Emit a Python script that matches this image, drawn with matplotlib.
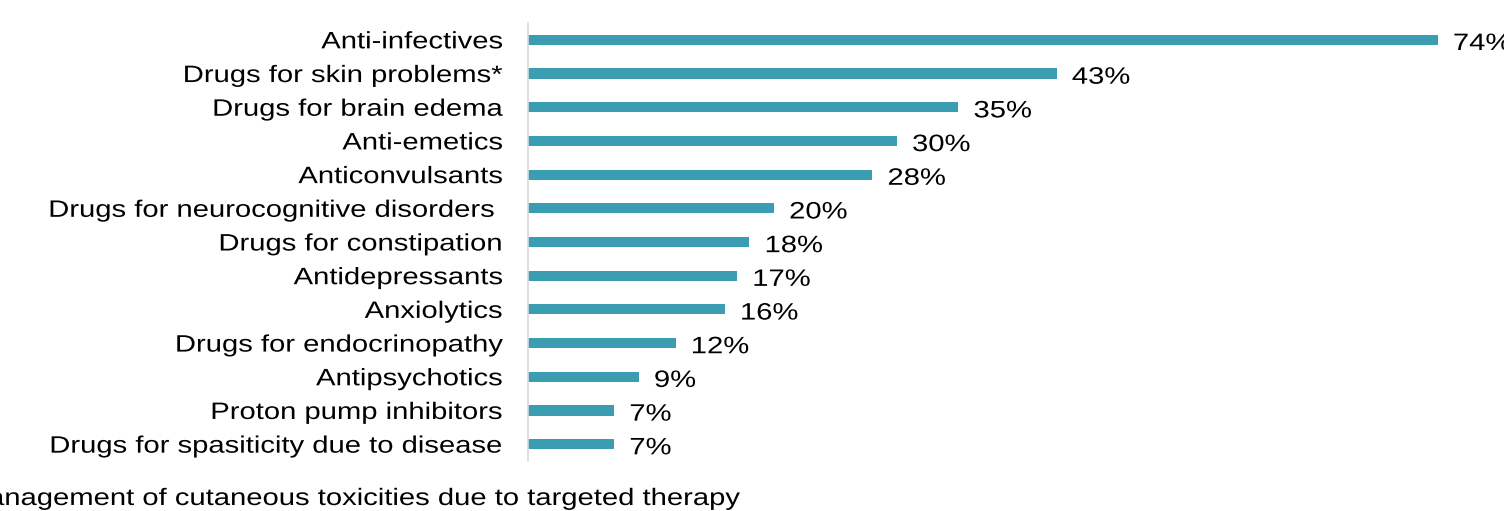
import matplotlib.pyplot as plt
from matplotlib.patheffects import AbstractPathEffect
from matplotlib.transforms import Affine2D

plt.rcParams['font.family'] = ['Liberation Sans', 'DejaVu Sans']

categories = [
    "Anti-infectives",
    "Drugs for skin problems*",
    "Drugs for brain edema",
    "Anti-emetics",
    "Anticonvulsants",
    "Drugs for neurocognitive disorders ",
    "Drugs for constipation",
    "Antidepressants",
    "Anxiolytics",
    "Drugs for endocrinopathy",
    "Antipsychotics",
    "Proton pump inhibitors",
    "Drugs for spasiticity due to disease",
]
percentages = [74, 43, 35, 30, 28, 20, 18, 17, 16, 12, 9, 7, 7]
footnote = "*Management of cutaneous toxicities due to targeted therapy"

bar_color = "#3A9DB1"
fs = 17.1
x_stretch = 1.23


class HorizontalStretch(AbstractPathEffect):
    """Widen glyphs horizontally about a fixed display x position."""

    def __init__(self, sx, x0):
        super().__init__()
        self._t = Affine2D().translate(-x0, 0).scale(sx, 1).translate(x0, 0)

    def draw_path(self, renderer, gc, tpath, affine, rgbFace=None):
        renderer.draw_path(gc, tpath, affine + self._t, rgbFace)


def widen(text, sx):
    bb = text.get_window_extent()
    x0 = bb.x1 if text.get_horizontalalignment() == "right" else bb.x0
    text.set_path_effects([HorizontalStretch(sx, x0)])


fig = plt.figure(figsize=(15.04, 5.11), dpi=100)
ax = fig.add_axes([528 / 1504, 1 - 461 / 511, 976 / 1504, 438 / 511])

y = list(range(len(categories)))
ax.barh(y, percentages, height=0.3, color=bar_color)
ax.set_ylim(len(categories) - 0.5, -0.5)
ax.set_xlim(0, 79.4)

ax.set_yticks(y)
ax.set_yticklabels(categories, fontsize=fs, color="black")
ax.tick_params(axis="y", length=0, pad=18)
ax.set_xticks([])

for s in ("top", "right", "bottom"):
    ax.spines[s].set_visible(False)
ax.spines["left"].set_color("#D9D9D9")
ax.spines["left"].set_linewidth(1.2)

value_texts = []
for yi, v in zip(y, percentages):
    value_texts.append(
        ax.annotate(f"{v}%", xy=(v, yi), xytext=(11, -3), textcoords="offset points",
                    ha="left", va="center", fontsize=fs, color="black",
                    annotation_clip=False))

note = fig.text(740 / 1504, 1 - 505 / 511, footnote, ha="right", va="baseline",
                fontsize=fs, color="black")

fig.canvas.draw()
for t in list(ax.get_yticklabels()) + value_texts + [note]:
    widen(t, x_stretch)

fig.savefig("out.png", dpi=100)
